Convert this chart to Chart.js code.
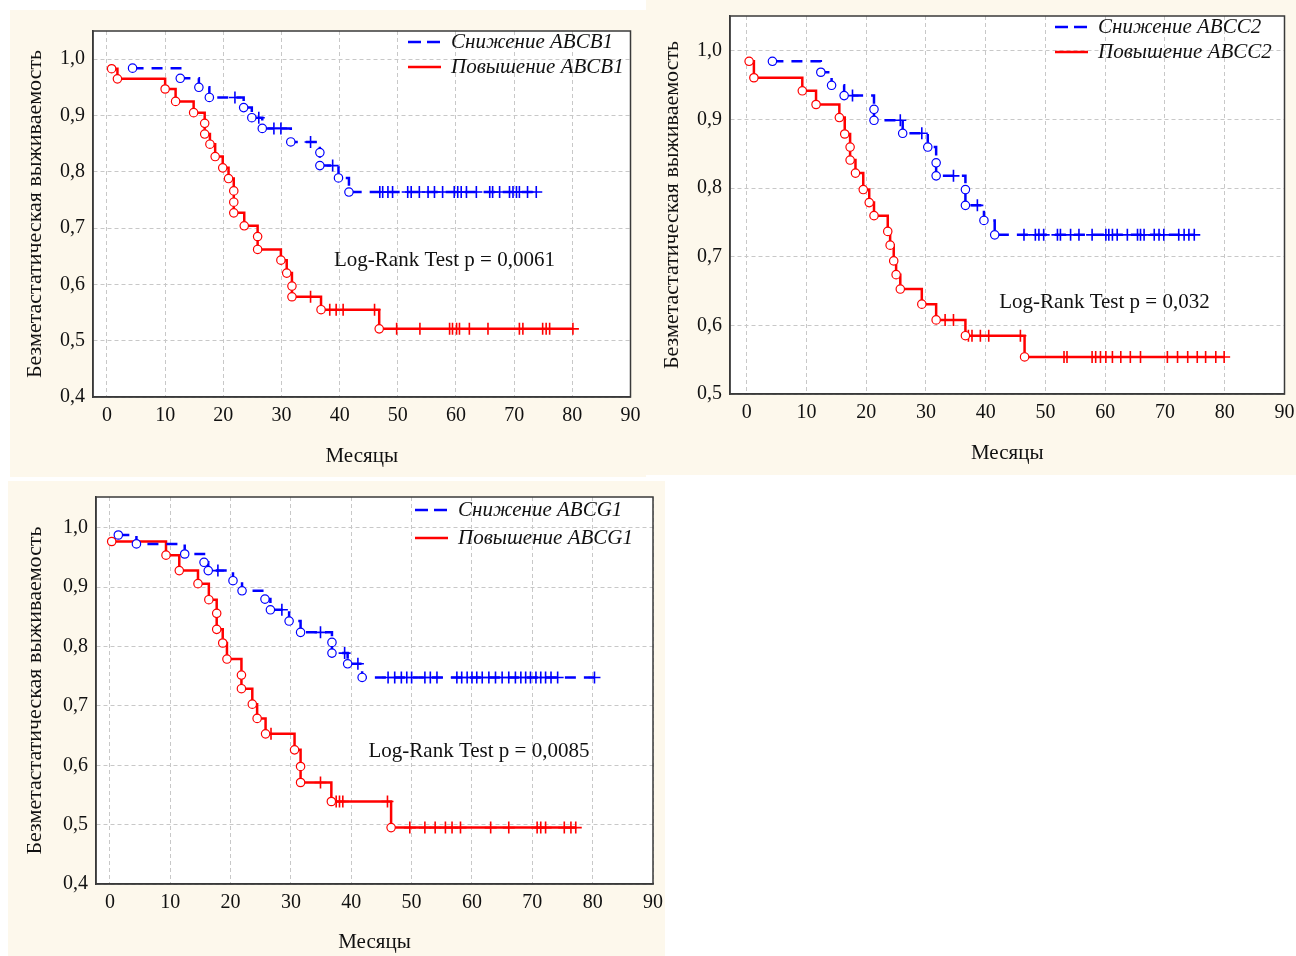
<!DOCTYPE html>
<html>
<head>
<meta charset="utf-8">
<script src="https://cdn.jsdelivr.net/npm/chart.js@4.4.1/dist/chart.umd.min.js"></script>
<style>
body { margin:0; background:#fff; width:1296px; height:956px; position:relative; overflow:hidden; }
.panel { position:absolute; background:#fdf8ec; }
.panel canvas { position:absolute; left:0; top:0; }
</style>
</head>
<body>
<div class="panel" style="left:10px;top:10px;width:636px;height:467px"><canvas id="c1" width="636" height="467"></canvas></div>
<div class="panel" style="left:646px;top:0px;width:650px;height:475px"><canvas id="c2" width="650" height="475"></canvas></div>
<div class="panel" style="left:8px;top:481px;width:657px;height:475px"><canvas id="c3" width="657" height="475"></canvas></div>
<script>
// ---- ABCB1 ----
var b1Labels = ['Снижение ABCB1', 'Повышение ABCB1'];
var b1DownEvT = [4.4, 12.6, 15.8, 17.6, 23.5, 24.9, 26.7, 31.6, 36.6, 36.6, 39.8, 41.6];
var b1DownEvS = [0.984, 0.966, 0.950, 0.932, 0.914, 0.896, 0.877, 0.853, 0.834, 0.811, 0.789, 0.764];
var b1DownCens = [22.0, 26.1, 28.7, 29.9, 35.0, 38.8, 46.9, 47.4, 48.3, 49.1, 51.7, 52.3, 53.7, 55.2, 56.3, 57.7,
  59.7, 60.3, 60.9, 61.8, 63.5, 65.8, 66.3, 67.5, 69.2, 69.8, 70.4, 70.9, 72.3, 73.8];
var b1UpEvT = [0.8, 1.8, 10.0, 11.8, 14.9, 16.8, 16.8, 17.7, 18.6, 19.9, 20.9, 21.8, 21.8, 21.8, 23.6, 25.9, 25.9,
  29.9, 30.9, 31.8, 31.8, 36.8, 46.8];
var b1UpEvS = [0.983, 0.965, 0.947, 0.925, 0.905, 0.886, 0.867, 0.849, 0.827, 0.807, 0.788, 0.766, 0.746, 0.727,
  0.704, 0.685, 0.662, 0.643, 0.620, 0.597, 0.578, 0.555, 0.521];
var b1UpCens = [35.0, 38.3, 39.4, 40.6, 46.0, 49.8, 53.8, 58.9, 59.4, 60.1, 60.6, 62.3, 65.5, 70.9, 71.5, 74.9, 75.5, 76.1, 80.1];
var b1Note = 'Log-Rank Test p = 0,0061';

// ---- ABCC2 ----
var c2Labels = ['Снижение ABCC2', 'Повышение ABCC2'];
var c2DownEvT = [4.3, 12.4, 14.2, 16.3, 21.3, 21.3, 26.1, 30.3, 31.7, 31.7, 36.6, 36.6, 39.7, 41.5];
var c2DownEvS = [0.985, 0.969, 0.950, 0.935, 0.915, 0.899, 0.880, 0.860, 0.837, 0.818, 0.798, 0.775, 0.753, 0.732];
var c2DownCens = [17.7, 25.7, 29.3, 34.6, 38.6, 46.4, 48.3, 48.9, 49.7, 52.0, 52.5, 54.2, 55.6, 57.8, 60.1, 60.6,
  61.2, 62.0, 63.7, 65.4, 65.9, 66.5, 68.2, 69.0, 69.8, 72.3, 73.2, 74.0, 74.9];
var c2UpEvT = [0.4, 1.2, 9.3, 11.6, 15.5, 16.4, 17.3, 17.3, 18.2, 19.5, 20.5, 21.3, 23.6, 24.0, 24.6, 25.0, 25.7,
  29.3, 31.7, 36.6, 46.5];
var c2UpEvS = [0.985, 0.961, 0.942, 0.922, 0.903, 0.879, 0.860, 0.841, 0.822, 0.798, 0.779, 0.760, 0.737, 0.717,
  0.694, 0.674, 0.653, 0.631, 0.608, 0.585, 0.554];
var c2UpCens = [33.2, 34.6, 37.1, 37.7, 39.1, 40.5, 45.8, 53.1, 53.6, 57.8, 58.4, 59.2, 60.1, 61.2, 62.6, 64.2,
  65.9, 70.4, 72.1, 73.8, 75.4, 76.8, 78.5, 79.9];
var c2Note = 'Log-Rank Test p = 0,032';

// ---- ABCG1 ----
var g1Labels = ['Снижение ABCG1', 'Повышение ABCG1'];
var g1DownEvT = [1.4, 4.4, 12.4, 15.6, 16.3, 20.4, 21.9, 25.7, 26.6, 29.7, 31.6, 36.8, 36.8, 39.4, 41.8];
var g1DownEvS = [0.988, 0.973, 0.956, 0.942, 0.928, 0.911, 0.894, 0.880, 0.862, 0.843, 0.824, 0.807, 0.789, 0.771, 0.748];
var g1DownCens = [17.9, 28.5, 34.9, 38.9, 41.1, 46.1, 47.2, 48.3, 49.2, 50.0, 52.2, 53.1, 54.2, 57.5, 58.3, 59.2,
  60.0, 60.8, 61.7, 62.8, 63.9, 65.0, 66.1, 67.2, 68.1, 68.9, 69.7, 70.6, 71.4, 72.2, 73.1, 74.2, 80.3];
var g1UpEvT = [0.3, 9.3, 11.5, 14.6, 16.4, 17.7, 17.7, 18.7, 19.4, 21.8, 21.8, 23.6, 24.4, 25.8, 30.6, 31.6, 31.6, 36.7, 46.6];
var g1UpEvS = [0.977, 0.954, 0.928, 0.906, 0.879, 0.856, 0.829, 0.806, 0.779, 0.752, 0.729, 0.703, 0.679, 0.653,
  0.626, 0.598, 0.571, 0.539, 0.495];
var g1UpCens = [26.7, 34.9, 37.5, 38.05, 38.6, 46.0, 49.7, 52.2, 53.9, 55.6, 56.7, 58.1, 63.1, 66.1, 70.8, 71.4,
  72.2, 75.3, 76.4, 77.2];
var g1Note = 'Log-Rank Test p = 0,0085';

var xTitle = 'Месяцы';
var yTitle = 'Безметастатическая выживаемость';

var BLUE = '#0000ff', RED = '#ff0000';
var SERIF = '"Liberation Serif", "Times New Roman", serif';

// merge events and censored times into one KM step line
function buildCurve(evT, evS, cens) {
  var line = [], ev = [], cen = [];
  var i = 0, j = 0, level = 1;
  while (i < evT.length || j < cens.length) {
    if (j >= cens.length || (i < evT.length && evT[i] <= cens[j])) {
      line.push({x: evT[i], y: evS[i]});
      ev.push({x: evT[i], y: evS[i]});
      level = evS[i];
      i++;
    } else {
      line.push({x: cens[j], y: level});
      cen.push({x: cens[j], y: level});
      j++;
    }
  }
  return {line: line, ev: ev, cen: cen};
}

function curveSets(c, color, dash) {
  return [
    {data: c.ev, showLine: false, pointStyle: 'circle', pointRadius: 4.2, pointBorderWidth: 1.2,
      pointBackgroundColor: '#fff', pointBorderColor: color, order: 1},
    {data: c.cen, showLine: false, pointStyle: 'cross', pointRadius: 6, pointBorderWidth: 1.6,
      pointBorderColor: color, order: 1},
    {data: c.line, showLine: true, stepped: true, borderColor: color, borderWidth: 2.5, borderDash: dash,
      pointRadius: 0, fill: false, order: 2}
  ];
}

var kmFrame = {
  id: 'kmFrame',
  beforeDraw: function (chart) {
    var a = chart.chartArea, ctx = chart.ctx;
    ctx.save();
    ctx.fillStyle = '#fff';
    ctx.fillRect(a.left, a.top, a.right - a.left, a.bottom - a.top);
    ctx.restore();
  },
  afterDraw: function (chart, args, o) {
    var a = chart.chartArea, ctx = chart.ctx;
    ctx.save();
    ctx.strokeStyle = '#3a3a3a';
    ctx.lineWidth = 1.5;
    ctx.strokeRect(a.left, a.top, a.right - a.left, a.bottom - a.top);
    ctx.font = 'italic 21px ' + SERIF;
    ctx.textBaseline = 'middle';
    ctx.fillStyle = '#111';
    o.items.forEach(function (it, k) {
      var y = o.legY[k];
      ctx.strokeStyle = it.color;
      ctx.lineWidth = 2.5;
      ctx.setLineDash(it.dash);
      ctx.beginPath();
      ctx.moveTo(o.legX, y);
      ctx.lineTo(o.legX + 33, y);
      ctx.stroke();
      ctx.setLineDash([]);
      ctx.fillText(it.text, o.legX + 43, y);
    });
    ctx.font = '21px ' + SERIF;
    ctx.textAlign = 'center';
    ctx.fillText(o.note, o.noteX, o.noteY);
    ctx.restore();
  }
};

function makeKM(id, p) {
  var down = buildCurve(p.downT, p.downS, p.downC);
  var up = buildCurve(p.upT, p.upS, p.upC);
  var sets = curveSets(down, BLUE, [11, 8]).concat(curveSets(up, RED, []));
  var tickFont = {family: SERIF, size: 20};
  var titleFont = {family: SERIF, size: 21};
  var yTitleFont = {family: SERIF, size: 22};
  return new Chart(document.getElementById(id), {
    type: 'scatter',
    data: {datasets: sets},
    options: {
      responsive: false,
      animation: false,
      devicePixelRatio: 1,
      layout: {padding: {top: p.pt, right: p.pr, left: 0, bottom: 0}},
      plugins: {
        legend: {display: false},
        tooltip: {enabled: false},
        kmFrame: {
          items: [
            {text: p.labels[0], color: BLUE, dash: [13, 6]},
            {text: p.labels[1], color: RED, dash: []}
          ],
          legX: p.legX, legY: p.legY, note: p.note, noteX: p.noteX, noteY: p.noteY
        }
      },
      scales: {
        x: {
          type: 'linear', min: p.xmin, max: 90,
          ticks: {stepSize: 10, includeBounds: false, padding: 7, font: tickFont, color: '#111', maxRotation: 0},
          grid: {color: '#c8c8c8', lineWidth: 1, drawTicks: false},
          border: {display: true, color: '#3a3a3a', width: 1.5, dash: [4, 3]},
          title: {display: true, text: xTitle, font: titleFont, color: '#111', padding: {top: 0, bottom: p.xtb}},
          afterFit: function (s) { s.height = p.xh; s.paddingLeft = 0; s.paddingRight = 0; }
        },
        y: {
          type: 'linear', min: p.ymin, max: p.ymax,
          ticks: {stepSize: 0.1, includeBounds: false, padding: 8, font: tickFont, color: '#111',
            callback: function (v) { return v.toFixed(1).replace('.', ','); }},
          grid: {color: '#c8c8c8', lineWidth: 1, drawTicks: false},
          border: {display: true, color: '#3a3a3a', width: 1.5, dash: [4, 3]},
          title: {display: true, text: yTitle, font: yTitleFont, color: '#111', padding: {top: p.ytt, bottom: 0}},
          afterFit: function (s) { s.width = p.yw; s.paddingTop = 0; s.paddingBottom = 0; }
        }
      }
    },
    plugins: [kmFrame]
  });
}

makeKM('c1', {
  downT: b1DownEvT, downS: b1DownEvS, downC: b1DownCens,
  upT: b1UpEvT, upS: b1UpEvS, upC: b1UpCens,
  labels: b1Labels, note: b1Note,
  xmin: -2.4, ymin: 0.4, ymax: 1.05,
  yw: 83, xh: 80, pt: 21, pr: 15.5, ytt: 11.8, xtb: 8.4,
  legX: 398, legY: [32, 57], noteX: 434.5, noteY: 250
});
makeKM('c2', {
  downT: c2DownEvT, downS: c2DownEvS, downC: c2DownCens,
  upT: c2UpEvT, upS: c2UpEvS, upC: c2UpCens,
  labels: c2Labels, note: c2Note,
  xmin: -2.8, ymin: 0.5, ymax: 1.051,
  yw: 84, xh: 81, pt: 16, pr: 11.5, ytt: 12.8, xtb: 9.4,
  legX: 409, legY: [27, 52], noteX: 458.5, noteY: 302
});
makeKM('c3', {
  downT: g1DownEvT, downS: g1DownEvS, downC: g1DownCens,
  upT: g1UpEvT, upS: g1UpEvS, upC: g1UpCens,
  labels: g1Labels, note: g1Note,
  xmin: -2.3, ymin: 0.4, ymax: 1.052,
  yw: 88, xh: 72, pt: 16, pr: 12, ytt: 13.8, xtb: 1.4,
  legX: 407, legY: [29, 57], noteX: 471, noteY: 270
});
</script>
</body>
</html>
